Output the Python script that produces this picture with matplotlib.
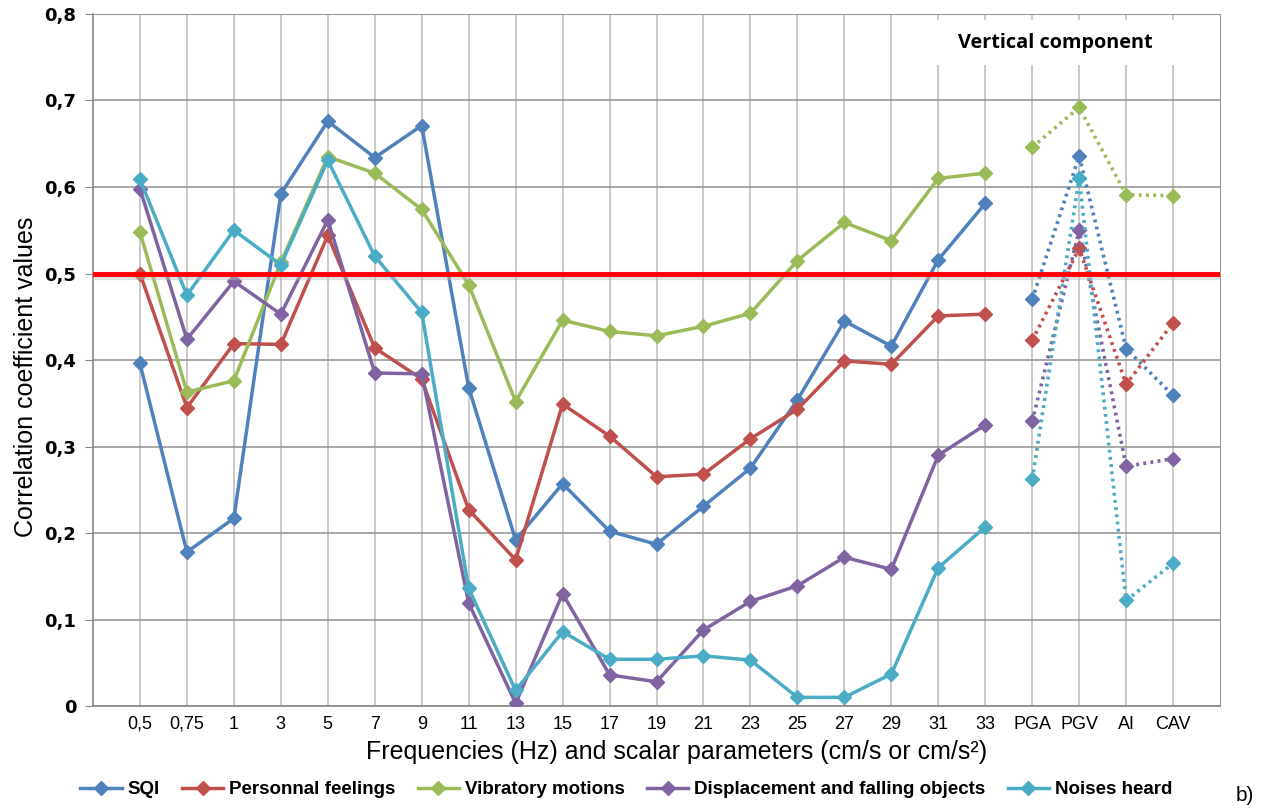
import numpy as np
import matplotlib
matplotlib.use("Agg")
import matplotlib.pyplot as plt
from matplotlib.patches import Rectangle
from matplotlib.lines import Line2D

# categories: frequencies (Hz) then scalar parameters
freq_labels = ["0,5", "0,75", "1", "3", "5", "7", "9", "11", "13", "15", "17",
               "19", "21", "23", "25", "27", "29", "31", "33"]
scalar_labels = ["PGA", "PGV", "AI", "CAV"]

series_names = ["SQI", "Personnal feelings", "Vibratory motions",
                "Displacement and falling objects", "Noises heard"]
series_colors = ["#4F81BD", "#C0504D", "#9BBB59", "#8064A2", "#4BACC6"]

# correlation values per frequency
sqi_freq = [0.396, 0.178, 0.217, 0.592, 0.676, 0.634, 0.671, 0.368, 0.192, 0.257,
            0.202, 0.187, 0.231, 0.275, 0.354, 0.445, 0.416, 0.516, 0.581]
feel_freq = [0.500, 0.345, 0.419, 0.418, 0.544, 0.414, 0.378, 0.227, 0.169, 0.349,
             0.312, 0.265, 0.268, 0.309, 0.343, 0.399, 0.395, 0.451, 0.453]
vib_freq = [0.548, 0.363, 0.376, 0.513, 0.635, 0.616, 0.574, 0.487, 0.352, 0.446,
            0.433, 0.428, 0.439, 0.454, 0.515, 0.559, 0.538, 0.610, 0.616]
disp_freq = [0.598, 0.424, 0.491, 0.453, 0.562, 0.385, 0.384, 0.119, 0.003, 0.130,
             0.036, 0.028, 0.088, 0.121, 0.139, 0.172, 0.158, 0.290, 0.325]
noise_freq = [0.609, 0.475, 0.550, 0.510, 0.631, 0.520, 0.455, 0.136, 0.018, 0.086,
              0.054, 0.054, 0.058, 0.053, 0.010, 0.010, 0.037, 0.160, 0.207]

# correlation values per scalar parameter (PGA, PGV, AI, CAV)
sqi_scal = [0.470, 0.636, 0.413, 0.359]
feel_scal = [0.423, 0.529, 0.372, 0.443]
vib_scal = [0.646, 0.692, 0.591, 0.590]
disp_scal = [0.329, 0.550, 0.277, 0.286]
noise_scal = [0.262, 0.610, 0.122, 0.165]

freq_values = [sqi_freq, feel_freq, vib_freq, disp_freq, noise_freq]
scal_values = [sqi_scal, feel_scal, vib_scal, disp_scal, noise_scal]

threshold = 0.5

fig = plt.figure(figsize=(12.65, 8.09), dpi=100)
ax = fig.add_axes([0.0735, 0.1273, 0.891, 0.8554])

x_freq = np.arange(1, len(freq_labels) + 1)
x_scal = np.arange(len(freq_labels) + 1, len(freq_labels) + len(scalar_labels) + 1)

for name, col, fv, sv in zip(series_names, series_colors, freq_values, scal_values):
    ax.plot(x_freq, fv, color=col, lw=2.5, marker="D", ms=7.5, zorder=3)
    ax.plot(x_scal, sv, color=col, lw=2.6, ls=(0, (0.8, 1.2)), marker="D", ms=7.5,
            zorder=3)

# threshold line with a faint shadow
ax.axhline(threshold - 0.003, color="#bbbbbb", lw=6, alpha=0.45, zorder=4)
ax.axhline(threshold, color="#ff0000", lw=3.5, zorder=5)

ax.set_xlim(0, 24)
ax.set_ylim(0, 0.8)
ax.set_xticks(np.concatenate([x_freq, x_scal]))
ax.set_xticklabels(freq_labels + scalar_labels, fontsize=13,
                   family="Liberation Sans")
ax.set_yticks(np.arange(0, 0.81, 0.1))
ax.set_yticklabels(["0"] + [f"0,{i}" for i in range(1, 9)],
                   fontsize=13, fontweight="bold", family="DejaVu Sans")
ax.tick_params(axis="x", length=0, pad=7)
ax.tick_params(axis="y", length=6, color="#888888", pad=6)

ax.set_axisbelow(True)
ax.grid(axis="y", color="#999999", lw=1.2)
ax.grid(axis="x", color="#c0c0c0", lw=1.2)
for side in ["top", "right"]:
    ax.spines[side].set_color("#999999")
for side in ["left", "bottom"]:
    ax.spines[side].set_color("#888888")
    ax.spines[side].set_linewidth(1.2)

# header box over the scalar-parameter part
ax.add_patch(Rectangle((17.8, 0.7405), 6.05, 0.0525, facecolor="white",
                       edgecolor="none", zorder=1))
ax.text(20.5, 0.767, "Vertical component", ha="center", va="center",
        fontsize=14.3, fontweight="bold", family="Open Sans", zorder=2)

ax.set_ylabel("Correlation coefficient values", fontsize=18,
              family="Liberation Sans")
ax.yaxis.set_label_coords(-0.049, 0.475)
ax.set_xlabel("Frequencies (Hz) and scalar parameters (cm/s or cm/s²)",
              fontsize=18, family="Liberation Sans")
ax.xaxis.set_label_coords(0.518, -0.049)

handles = [Line2D([], [], color=c, lw=2.5, marker="D", ms=7.5) for c in series_colors]
fig.legend(handles, series_names, loc="center", bbox_to_anchor=(0.495, 0.024),
           ncol=5, frameon=False, handlelength=2.2, handletextpad=0.3,
           columnspacing=1.2,
           prop={"family": "Liberation Sans", "weight": "bold", "size": 13.5})

fig.text(0.984, 0.017, "b)", fontsize=15, family="Liberation Sans",
         ha="center", va="center")

fig.savefig("out.png", dpi=100)
